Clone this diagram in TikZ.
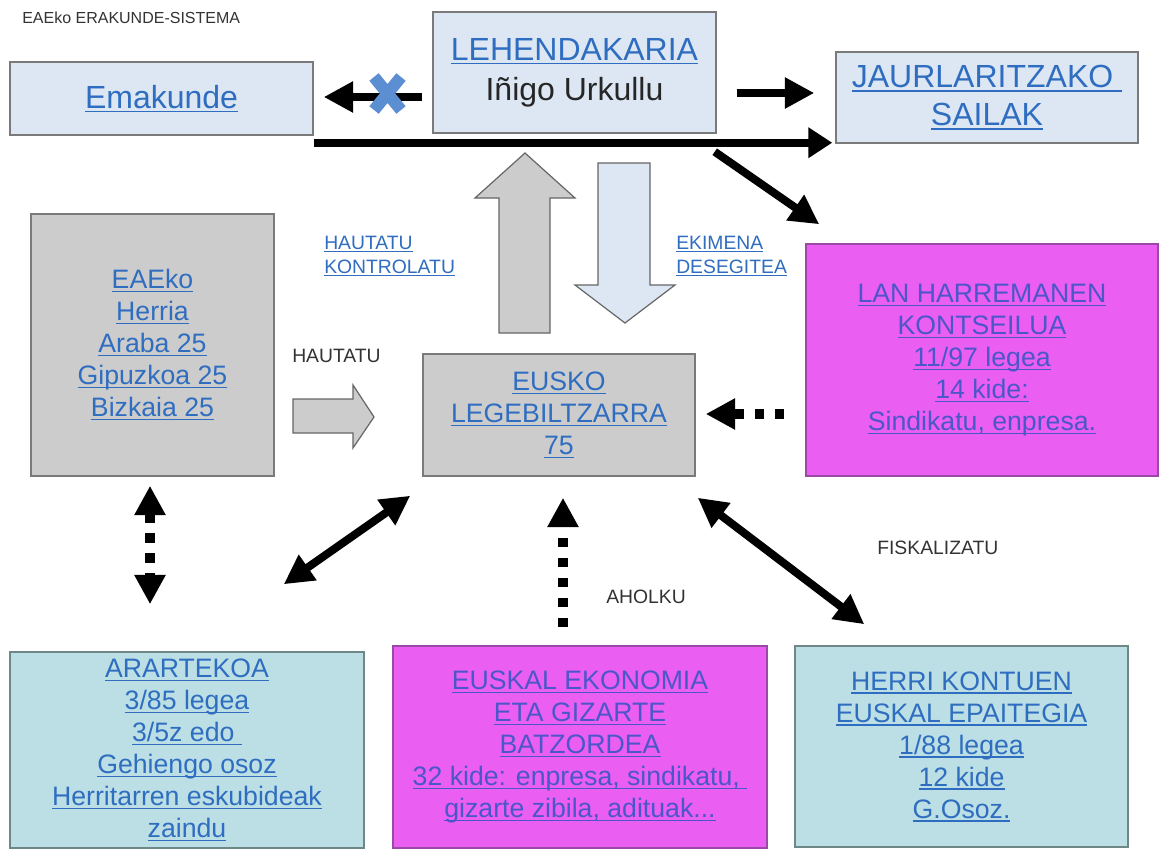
\documentclass[tikz,border=0pt]{standalone}
\usepackage{fontspec}
\setmainfont{Liberation Sans}
\usetikzlibrary{arrows.meta}
\definecolor{boxblue}{HTML}{DCE7F3}
\definecolor{boxgray}{HTML}{CCCCCC}
\definecolor{boxmag}{HTML}{EB5EF2}
\definecolor{boxcyan}{HTML}{BBDFE4}
\definecolor{linkblue}{HTML}{2F6DC0}
\definecolor{linkmag}{HTML}{4B57C8}
\definecolor{xblue}{HTML}{5B8FD2}
\definecolor{labelgray}{HTML}{333333}
\definecolor{edgegray}{HTML}{7A7A7A}
\definecolor{edgemag}{HTML}{9A4AA6}
\newcommand\ul[1]{\setbox0=\hbox{#1}\leavevmode\rlap{\rule[-0.13em]{\wd0}{0.05em}}\box0}
\tikzset{
  box/.style={draw=edgegray, line width=1.1pt, align=center, inner sep=0pt, text=linkblue,
    font=\fontsize{20}{24}\selectfont},
  bluebox/.style={box, fill=boxblue, font=\fontsize{24}{30}\selectfont},
  graybox/.style={box, fill=boxgray},
  magbox/.style={box, fill=boxmag, draw=edgemag, text=linkmag},
  cyanbox/.style={box, fill=boxcyan, draw=edgegray!90!cyan},
  smalllink/.style={align=left, inner sep=0pt, anchor=west, text=linkblue,
    font=\fontsize{14.5}{18}\selectfont},
  smalllabel/.style={inner sep=0pt, anchor=west, text=labelgray,
    font=\fontsize{14.5}{18}\selectfont},
  fat/.style={line width=6pt, -{Triangle[length=22pt,width=22pt]}},
  fatboth/.style={line width=6pt, {Triangle[length=22pt,width=22pt]}-{Triangle[length=22pt,width=22pt]}},
  dotted arrow/.style={line width=7pt, dash pattern=on 7pt off 8pt, -{Triangle[length=22pt,width=22pt]}},
  dotted both/.style={line width=7pt, dash pattern=on 7pt off 8pt,
    {Triangle[length=22pt,width=22pt]}-{Triangle[length=22pt,width=22pt]}},
  blockarrow/.style={draw=black!60, line width=0.9pt},
}
\begin{document}
\begin{tikzpicture}[x=0.75pt,y=-0.75pt]
\fill[white] (0,0) rectangle (1161,849);
\useasboundingbox (0,0) rectangle (1161,849);

% title
\node[inner sep=0pt, anchor=west, text=labelgray, font=\fontsize{12}{14}\selectfont] (title) at (22,18) {EAEko ERAKUNDE-SISTEMA};

% top row
\node[bluebox, minimum width=227.25pt, minimum height=54.75pt] (emak) at (161.5,98.5) {\ul{Emakunde}};
\node[bluebox, minimum width=212.25pt, minimum height=90.75pt] (lehen) at (574.5,72.5)
  {\ul{LEHENDAKARIA}\\{\color{black!85}Iñigo Urkullu}};
\node[bluebox, minimum width=226.5pt, minimum height=68.25pt, font=\fontsize{24}{28.5}\selectfont] (jaur) at (987,97.5)
  {\ul{JAURLARITZAKO\ }\\\ul{SAILAK}};

% middle row
\node[graybox, minimum width=182.25pt, minimum height=196.5pt] (eae) at (152.5,345)
  {\ul{EAEko}\\\ul{Herria}\\\ul{Araba 25}\\\ul{Gipuzkoa 25}\\\ul{Bizkaia 25}};
\node[graybox, minimum width=204pt, minimum height=91.5pt] (eusko) at (559,415)
  {\ul{EUSKO}\\\ul{LEGEBILTZARRA}\\\ul{75}};
\node[magbox, minimum width=264pt, minimum height=174pt] (lan) at (982,360)
  {\ul{LAN HARREMANEN}\\\ul{KONTSEILUA}\\\ul{11/97 legea}\\\ul{14 kide:}\\\ul{Sindikatu, enpresa.}};

% bottom row
\node[cyanbox, minimum width=265.5pt, minimum height=147pt] (arar) at (187,750)
  {\ul{ARARTEKOA}\\\ul{3/85 legea}\\\ul{3/5z edo\ }\\\ul{Gehiengo osoz}\\\ul{Herritarren eskubideak}\\\ul{zaindu}};
\node[magbox, minimum width=280.5pt, minimum height=151.5pt] (ekon) at (580,747)
  {\ul{EUSKAL EKONOMIA}\\\ul{ETA GIZARTE}\\\ul{BATZORDEA}\\\ul{32 kide: enpresa, sindikatu,\ }\\\ul{gizarte zibila, adituak...}};
\node[cyanbox, minimum width=249.75pt, minimum height=150.75pt] (herri) at (961.5,746.5)
  {\ul{HERRI KONTUEN}\\\ul{EUSKAL EPAITEGIA}\\\ul{1/88 legea}\\\ul{12 kide}\\\ul{G.Osoz.}};

% labels
\node[smalllink] (hk) at (324,256) {\ul{HAUTATU}\\\ul{KONTROLATU}};
\node[smalllink] (ek) at (676,256) {\ul{EKIMENA}\\\ul{DESEGITEA}};
\node[smalllabel] (haut) at (292,356) {HAUTATU};
\node[smalllabel] (ahol) at (606,597) {AHOLKU};
\node[smalllabel] (fisk) at (877,548) {FISKALIZATU};

% block arrows
\draw[blockarrow, fill=boxgray] (499,333) -- (550,333) -- (550,198) -- (575,198) -- (525,153) -- (475,198) -- (499,198) -- cycle;
\draw[blockarrow, fill=boxblue] (598,163) -- (650,163) -- (650,285) -- (675,285) -- (625,323) -- (575,285) -- (598,285) -- cycle;
\draw[blockarrow, fill=boxgray] (293,399) -- (353,399) -- (353,385) -- (374,417) -- (353,448) -- (353,433) -- (293,433) -- cycle;

% connectors
\draw[fat] ([shift={(-10,24.5)}]lehen.west) -- ([shift={(10,-1.5)}]emak.east);
\draw[line width=9pt, xblue] (374,77) -- (401,110) (401,77) -- (374,110);
\draw[fat] ([shift={(20,20.5)}]lehen.east) -- ([shift={(-21,-4.5)}]jaur.west);
\draw[line width=6pt, -{Triangle[length=18pt,width=22pt]}] ([shift={(0,7)}]emak.south east) -- ([shift={(-3,-1)}]jaur.south west);
\draw[fat] ([shift={(-2,18)}]lehen.south east) -- ([shift={(14,-19)}]lan.north west);
\draw[dotted both] ([shift={(-2.5,9)}]eae.south) -- ([shift={(-2.5,-47)}]eae.south |- arar.north);
\draw[fatboth] ([shift={(-12,19)}]eusko.south west) -- ([shift={(-81,-67)}]arar.north east);
\draw[dotted arrow] ([shift={(-21,54)}]lan.west) -- ([shift={(10,-1)}]eusko.east);
\draw[dotted arrow] ([shift={(-17,-18)}]ekon.north) -- ([shift={(4,21)}]eusko.south);
\draw[fatboth] ([shift={(2,21)}]eusko.south east) -- ([shift={(70,-21)}]herri.north west);
\end{tikzpicture}
\end{document}
